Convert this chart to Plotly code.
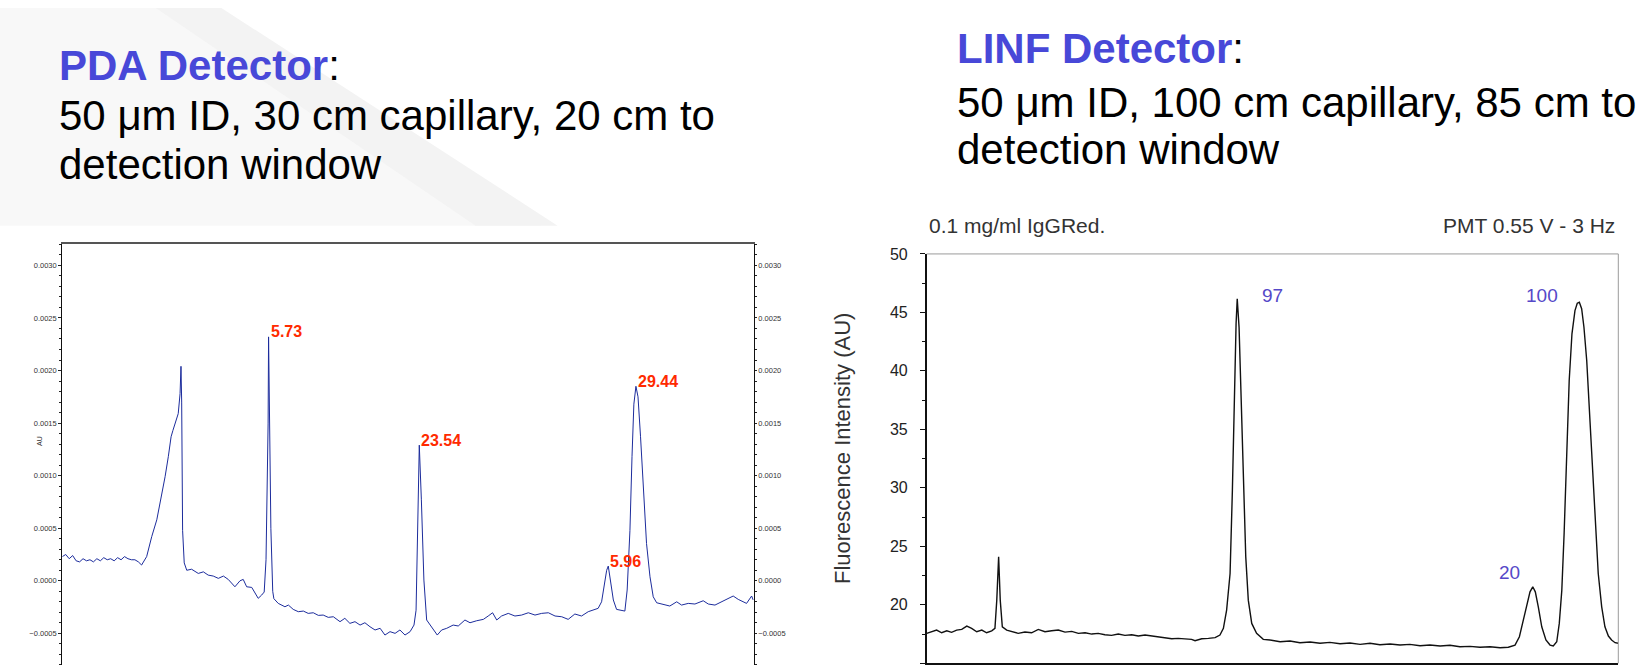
import numpy as np
import plotly.graph_objects as go

# ---------------- data: PDA detector (left) ----------------
pda_time = [0.00, 0.15, 0.30, 0.45, 0.60, 0.75, 0.90, 1.05, 1.20, 1.35, 1.50, 1.65, 1.80, 1.95,
            2.10, 2.25, 2.40, 2.55, 2.70, 2.85, 3.00, 3.15, 3.30, 3.44,
            3.66, 3.88, 4.10, 4.31, 4.46, 4.60, 4.72, 4.80, 4.89, 5.03, 5.11, 5.15, 5.18, 5.22, 5.29, 5.40,
            5.61, 5.90, 6.12, 6.33, 6.55, 6.77, 6.99, 7.20, 7.49, 7.71, 7.85, 8.00, 8.22, 8.36, 8.50, 8.65, 8.76,
            8.84, 8.93, 8.95, 9.00, 9.05, 9.13, 9.18,
            9.37, 9.66, 9.81, 10.02, 10.24, 10.46, 10.67, 10.89, 11.11, 11.32, 11.54, 11.76,
            12.05, 12.26, 12.48, 12.70, 12.92, 13.13, 13.35, 13.57, 13.79, 14.00, 14.22, 14.44, 14.65, 14.87, 15.09, 15.26,
            15.35, 15.42, 15.49, 15.58, 15.69, 15.81, 16.03, 16.27, 16.46, 16.68, 16.96, 17.18, 17.47, 17.69, 17.98,
            18.27, 18.48, 18.67, 18.85, 19.06, 19.35, 19.64, 19.93, 20.22, 20.51, 20.80, 21.09, 21.38, 21.67, 21.95,
            22.24, 22.53, 22.82,
            23.04, 23.25, 23.40, 23.51, 23.62, 23.69, 23.79, 23.91, 24.05, 24.27, 24.41, 24.51, 24.63, 24.72, 24.80,
            24.89, 24.98, 25.09, 25.21, 25.35, 25.50, 25.64, 25.79, 26.07, 26.36, 26.66, 26.87, 27.16, 27.45, 27.81,
            28.03, 28.32, 28.61, 28.83, 29.11, 29.33, 29.55, 29.69, 29.91, 29.98]
pda_mau = [0.23, 0.25, 0.21, 0.24, 0.19, 0.18, 0.21, 0.19, 0.20, 0.18, 0.21, 0.19, 0.22, 0.20,
           0.21, 0.19, 0.22, 0.20, 0.23, 0.21, 0.20, 0.20, 0.18, 0.15,
           0.23, 0.42, 0.58, 0.80, 0.99, 1.18, 1.37, 1.43, 1.50, 1.59, 1.78, 2.04, 1.70, 0.48, 0.17, 0.10,
           0.11, 0.07, 0.085, 0.054, 0.045, 0.023, 0.045, 0.013, -0.057, 0.0, 0.013, -0.057, -0.063, -0.12, -0.167, -0.136, -0.107,
           0.20, 1.50, 2.32, 1.60, 0.50, -0.10, -0.17,
           -0.215, -0.247, -0.231, -0.272, -0.294, -0.288, -0.31, -0.304, -0.329, -0.326, -0.348, -0.342,
           -0.389, -0.357, -0.405, -0.389, -0.421, -0.399, -0.437, -0.468, -0.452, -0.516, -0.484, -0.50, -0.468, -0.516, -0.484, -0.421,
           -0.28, 0.48, 1.29, 0.77, 0.007, -0.373, -0.44, -0.516, -0.468, -0.452, -0.421, -0.43, -0.373, -0.399, -0.38,
           -0.367, -0.335, -0.304, -0.373, -0.335, -0.31, -0.335, -0.326, -0.304, -0.326, -0.31, -0.304, -0.335, -0.342, -0.367,
           -0.316, -0.335, -0.294,
           -0.278, -0.262, -0.20, -0.057, 0.10, 0.14, 0.007, -0.183, -0.272, -0.278, -0.288, -0.088, 0.48, 1.18, 1.68,
           1.85, 1.75, 1.37, 0.86, 0.355, 0.038, -0.152, -0.209, -0.221, -0.24, -0.20, -0.231, -0.215, -0.221, -0.19,
           -0.221, -0.231, -0.20, -0.177, -0.145, -0.177, -0.20, -0.215, -0.145, -0.183]

pda_peak_labels = ["5.73", "23.54", "5.96", "29.44"]
pda_peak_time = [8.95, 15.49, 23.69, 24.89]
pda_peak_mau = [2.32, 1.29, 0.14, 1.85]

pda_ticks = [-0.0005, 0.0, 0.0005, 0.0010, 0.0015, 0.0020, 0.0025, 0.0030]

# ---------------- data: LINF detector (right) ----------------
linf_time = [0.00, 0.22, 0.43, 0.65, 0.87, 1.08, 1.30, 1.52, 1.74, 1.95, 2.17, 2.39, 2.60, 2.82, 2.96,
             3.04, 3.12, 3.19, 3.28, 3.47, 3.69, 3.97, 4.26, 4.55, 4.84, 5.13, 5.42, 5.71, 6.00, 6.29,
             6.58, 6.87, 7.16, 7.44, 7.73, 8.02, 8.31, 8.60, 8.89, 9.18, 9.47, 9.76, 10.05, 10.34, 10.63,
             10.91, 11.20, 11.49, 11.64, 11.93, 12.22, 12.51, 12.72, 12.87, 13.01, 13.16, 13.26, 13.34,
             13.42, 13.47, 13.55, 13.63, 13.73, 13.84, 13.95, 14.10, 14.31, 14.60,
             14.89, 15.33, 15.76, 16.19, 16.63, 17.06, 17.49, 17.93, 18.36, 18.80, 19.23, 19.66, 20.10,
             20.53, 20.96, 21.40, 21.83, 22.27, 22.70, 23.13, 23.57, 24.00, 24.44, 24.87, 25.23, 25.52,
             25.71, 25.88, 26.03, 26.17, 26.29, 26.40, 26.53, 26.68, 26.86, 27.04, 27.18, 27.33, 27.44,
             27.55, 27.65, 27.76, 27.87, 27.99, 28.12, 28.22, 28.31, 28.41, 28.51, 28.63, 28.74, 28.86,
             28.99, 29.13, 29.28, 29.42, 29.57, 29.71, 29.86, 30.00]
linf_fi = [17.56, 17.70, 17.84, 17.61, 17.78, 17.65, 17.84, 17.90, 18.18, 17.99, 17.70, 17.84, 17.61, 17.78, 17.99,
           20.40, 24.10, 20.40, 18.12, 17.84, 17.73, 17.56, 17.67, 17.61, 17.90, 17.70, 17.78, 17.84, 17.67, 17.73,
           17.56, 17.61, 17.50, 17.56, 17.44, 17.39, 17.50, 17.39, 17.44, 17.33, 17.42, 17.33, 17.22, 17.16, 17.10,
           17.13, 17.07, 17.05, 16.93, 17.10, 17.13, 17.19, 17.42, 17.99, 19.55, 22.68, 29.79, 38.33,
           44.03, 46.16, 43.73, 38.33, 30.65, 24.10, 20.40, 18.41, 17.56, 17.05,
           16.99, 16.84, 16.90, 16.76, 16.82, 16.71, 16.79, 16.67, 16.73, 16.62, 16.71, 16.59, 16.65,
           16.56, 16.62, 16.50, 16.56, 16.48, 16.54, 16.42, 16.45, 16.37, 16.42, 16.33, 16.37, 16.56,
           17.27, 18.70, 20.12, 21.11, 21.54, 21.11, 19.83, 18.12, 16.99, 16.56, 16.48, 16.84, 18.41,
           21.26, 26.10, 32.64, 39.18, 43.17, 45.16, 45.78, 45.87, 45.31, 43.73, 40.89, 36.91, 32.36,
           27.23, 22.68, 19.83, 18.12, 17.33, 16.99, 16.76, 16.71]

linf_labels = ["97", "100", "20"]
linf_label_time = [15.0, 26.71, 25.26]
linf_label_fi = [46.44, 46.44, 22.79]

linf_ticks = [15, 20, 25, 30, 35, 40, 45, 50]

FONT = "Liberation Sans, Arial, Helvetica, sans-serif"
BLUE_TITLE = "#4848d8"

W, H = 1640, 665


def py(ypix):
    """paper fraction for a target pixel row (compensates the viewer's 7 px top offset)"""
    y_set = (ypix - 7.0) / (658.0 / 665.0)
    return 1.0 - y_set / H


fig = go.Figure()

pda_au = np.array(pda_mau) / 1000.0
fig.add_trace(go.Scatter(
    x=pda_time, y=pda_au, mode="lines",
    line=dict(color="#1c2c9c", width=1), xaxis="x", yaxis="y",
    showlegend=False, hoverinfo="skip"))
# same series referenced by the right-hand AU axis so that axis is drawn
fig.add_trace(go.Scatter(
    x=pda_time, y=pda_au, mode="lines", opacity=0,
    line=dict(color="#1c2c9c", width=1), xaxis="x", yaxis="y3",
    showlegend=False, hoverinfo="skip"))

fig.add_trace(go.Scatter(
    x=linf_time, y=linf_fi, mode="lines",
    line=dict(color="#111111", width=1.4), xaxis="x2", yaxis="y2",
    showlegend=False, hoverinfo="skip"))

left_dom_x = [62.3 / W, 753.7 / W]
left_dom_y = [0.0, py(243.3)]
right_dom_x = [926.7 / W, 1618.3 / W]
right_dom_y = [max(0.0, py(663.3)), py(253.3)]

pda_range = [-0.000801, 0.003204]

fig.update_layout(
    width=W, height=H,
    margin=dict(l=0, r=0, t=0, b=0),
    paper_bgcolor="white", plot_bgcolor="rgba(0,0,0,0)",
    font=dict(family=FONT, color="#222222"),
    xaxis=dict(domain=left_dom_x, range=[0, 30], anchor="y", side="top",
               showline=True, linecolor="#555555", linewidth=1.5, ticks="",
               showticklabels=False, showgrid=False, zeroline=False),
    yaxis=dict(domain=left_dom_y, range=pda_range, anchor="x",
               showline=True, linecolor="#111111", linewidth=1.2,
               ticks="outside", ticklen=3, tickcolor="#222222", tickwidth=1,
               tickvals=pda_ticks, tickformat=".4f",
               tickfont=dict(size=7.5, color="#333333"),
               minor=dict(dtick=0.0001, tick0=0, ticks="outside", ticklen=2, tickcolor="#222222"),
               showgrid=False, zeroline=False),
    yaxis3=dict(overlaying="y", side="right", anchor="x", range=pda_range,
                showline=True, linecolor="#111111", linewidth=1.2,
                ticks="outside", ticklen=2, tickcolor="#222222", tickwidth=1,
                tickvals=pda_ticks, tickformat=".4f",
                tickfont=dict(size=7.5, color="#333333"),
                minor=dict(dtick=0.0001, tick0=0, ticks="outside", ticklen=2, tickcolor="#222222"),
                showgrid=False, zeroline=False),
    xaxis2=dict(domain=right_dom_x, range=[0, 30], anchor="y2",
                showline=True, linecolor="#111111", linewidth=2, ticks="",
                showticklabels=False, showgrid=False, zeroline=False),
    yaxis2=dict(domain=right_dom_y, range=[15, 50], anchor="x2",
                showline=True, linecolor="#111111", linewidth=1.5,
                ticks="outside", ticklen=5, tickwidth=1.3, tickcolor="#111111",
                tickvals=linf_ticks, ticklabelstandoff=9,
                tickfont=dict(size=16, color="#222222"),
                minor=dict(dtick=2.5, tick0=15, ticks="outside", ticklen=3, tickcolor="#111111"),
                showgrid=False, zeroline=False),
)

# frame lines of the LINF plot (top and right, thin grey)
fig.add_shape(type="line", xref="x2 domain", yref="y2 domain", x0=0, x1=1, y0=1, y1=1,
              line=dict(color="#9a9a9a", width=1))
fig.add_shape(type="line", xref="x2 domain", yref="y2 domain", x0=1, x1=1, y0=0, y1=1,
              line=dict(color="#9a9a9a", width=1))

# faint slide swoosh in the top-left background
yb = py(225)
fig.add_shape(type="path", xref="paper", yref="paper", layer="below",
              path=f"M 0 1 L 0.13 1 L 0.33 {yb} L 0 {yb} Z",
              fillcolor="#f8f8f8", line=dict(width=0))
fig.add_shape(type="path", xref="paper", yref="paper", layer="below",
              path=f"M 0.095 1 L 0.135 1 L 0.34 {yb} L 0.29 {yb} Z",
              fillcolor="#f3f3f3", line=dict(width=0))

ann = []
# slide texts
ann.append(dict(text=f"<b><span style='color:{BLUE_TITLE}'>PDA Detector</span></b>:",
                x=56.5 / W, y=py(64.8)))
ann.append(dict(text="50 μm ID, 30 cm capillary, 20 cm to", x=56.5 / W, y=py(115.0)))
ann.append(dict(text="detection window", x=56.5 / W, y=py(164.2)))
ann.append(dict(text=f"<b><span style='color:{BLUE_TITLE}'>LINF Detector</span></b>:",
                x=955 / W, y=py(47.1)))
ann.append(dict(text="50 μm ID, 100 cm capillary, 85 cm to", x=955 / W, y=py(101.5)))
ann.append(dict(text="detection window", x=955 / W, y=py(148.5)))
for a in ann:
    a.update(xref="paper", yref="paper", xanchor="left", yanchor="middle", showarrow=False,
             font=dict(size=42, color="#000000", family=FONT))

# PDA peak labels
for lab, t, v in zip(pda_peak_labels, pda_peak_time, pda_peak_mau):
    ann.append(dict(text=f"<b>{lab}</b>", x=t, y=v / 1000.0, xref="x", yref="y",
                    xanchor="left", yanchor="middle", yshift=5, showarrow=False,
                    font=dict(size=16, color="#ff2a00", family=FONT)))
ann.append(dict(text="AU", x=34.5 / W, y=py(447.6), xref="paper", yref="paper",
                textangle=-90, showarrow=False, font=dict(size=7, color="#333333", family=FONT)))

# LINF labels
for lab, t, v in zip(linf_labels, linf_label_time, linf_label_fi):
    ann.append(dict(text=lab, x=t, y=v, xref="x2", yref="y2", showarrow=False,
                    xanchor="center", yanchor="middle",
                    font=dict(size=19, color="#5548c8", family=FONT)))
ann.append(dict(text="0.1 mg/ml IgGRed.", x=927 / W, y=py(225), xref="paper", yref="paper",
                xanchor="left", yanchor="middle", showarrow=False,
                font=dict(size=21, color="#333333", family=FONT)))
ann.append(dict(text="PMT 0.55 V - 3 Hz", x=1617 / W, y=py(225), xref="paper", yref="paper",
                xanchor="right", yanchor="middle", showarrow=False,
                font=dict(size=21, color="#333333", family=FONT)))
ann.append(dict(text="Fluorescence Intensity (AU)", x=842 / W, y=py(448.7),
                xref="paper", yref="paper", textangle=-90, showarrow=False,
                xanchor="center", yanchor="middle",
                font=dict(size=22, color="#333333", family=FONT)))

fig.update_layout(annotations=ann)

fig.write_html(
    "out.html",
    config={"displayModeBar": False},
    post_script=("var gd=document.getElementById('{plot_id}');"
                 "gd.style.position='absolute';gd.style.left='0px';gd.style.top='0px';"
                 "document.body.style.margin='0';document.body.style.overflow='hidden';"),
)
